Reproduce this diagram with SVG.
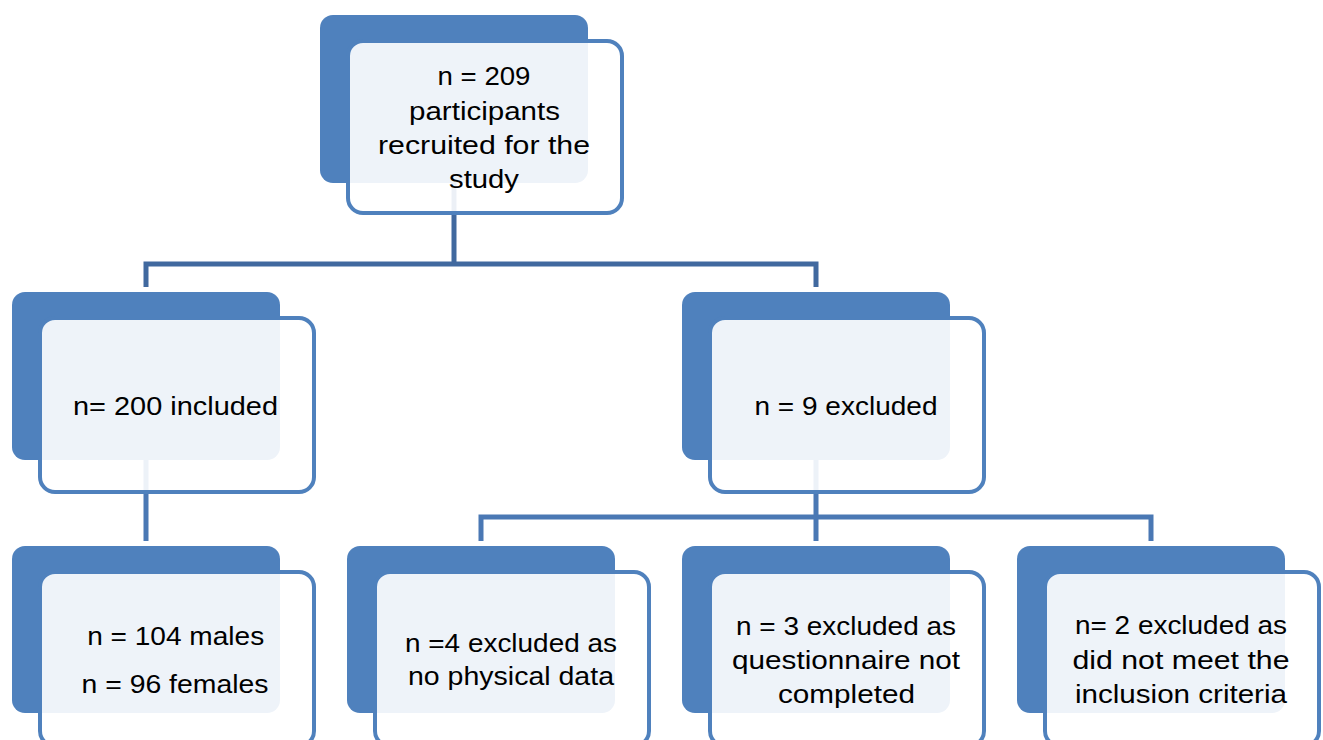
<svg xmlns="http://www.w3.org/2000/svg" width="1323" height="740" viewBox="0 0 1323 740">
<style>
.back{fill:#4F81BD}
.front{fill:#FFFFFF;fill-opacity:0.9;stroke:#4F81BD;stroke-width:4}
.c1{fill:none;stroke:#41699F;stroke-width:5;stroke-linejoin:miter}
.c2{fill:none;stroke:#4A78B4;stroke-width:5;stroke-linejoin:miter}
text{font-family:"Liberation Sans",Arial,sans-serif;font-size:25px;fill:#000;text-anchor:middle}
</style>
<rect width="1323" height="740" fill="#FFFFFF"/>
<g id="connectors">
<path class="c1" d="M454 100 V264"/>
<path class="c1" d="M146 287 V264 H816 V287"/>
<path class="c2" d="M146 400 V541"/>
<path class="c2" d="M816 400 V541"/>
<path class="c2" d="M481 541 V517 H1151 V541"/>
</g>
<g id="n_root">
<rect class="back" x="320" y="15" width="268" height="168" rx="13"/>
<rect class="front" x="348" y="41" width="274" height="172" rx="15"/>
<text x="484" y="85" textLength="93" lengthAdjust="spacingAndGlyphs">n = 209</text>
<text x="484.5" y="119.5" textLength="151" lengthAdjust="spacingAndGlyphs">participants</text>
<text x="484" y="154" textLength="212" lengthAdjust="spacingAndGlyphs">recruited for the</text>
<text x="484" y="188" textLength="70" lengthAdjust="spacingAndGlyphs">study</text>
</g>
<g id="n_included">
<rect class="back" x="12" y="292" width="268" height="168" rx="13"/>
<rect class="front" x="40" y="318" width="274" height="174" rx="15"/>
<text x="175.5" y="415" textLength="205" lengthAdjust="spacingAndGlyphs">n= 200 included</text>
</g>
<g id="n_excluded">
<rect class="back" x="682" y="292" width="268" height="168" rx="13"/>
<rect class="front" x="710" y="318" width="274" height="174" rx="15"/>
<text x="846" y="415" textLength="183" lengthAdjust="spacingAndGlyphs">n = 9 excluded</text>
</g>
<g id="n_sex">
<rect class="back" x="12" y="546" width="268" height="167" rx="13"/>
<rect class="front" x="40" y="572" width="274" height="174" rx="15"/>
<text x="175.7" y="645" textLength="177" lengthAdjust="spacingAndGlyphs">n = 104 males</text>
<text x="175" y="693" textLength="187" lengthAdjust="spacingAndGlyphs">n = 96 females</text>
</g>
<g id="n_physical">
<rect class="back" x="347" y="546" width="268" height="167" rx="13"/>
<rect class="front" x="375" y="572" width="274" height="174" rx="15"/>
<text x="511" y="651.5" textLength="212" lengthAdjust="spacingAndGlyphs">n =4 excluded as</text>
<text x="511" y="685" textLength="206" lengthAdjust="spacingAndGlyphs">no physical data</text>
</g>
<g id="n_questionnaire">
<rect class="back" x="682" y="546" width="268" height="167" rx="13"/>
<rect class="front" x="710" y="572" width="274" height="174" rx="15"/>
<text x="846" y="634.5" textLength="220" lengthAdjust="spacingAndGlyphs">n = 3 excluded as</text>
<text x="846" y="668.5" textLength="228" lengthAdjust="spacingAndGlyphs">questionnaire not</text>
<text x="846.5" y="703" textLength="137" lengthAdjust="spacingAndGlyphs">completed</text>
</g>
<g id="n_criteria">
<rect class="back" x="1017" y="546" width="268" height="167" rx="13"/>
<rect class="front" x="1045" y="572" width="274" height="174" rx="15"/>
<text x="1181" y="633.5" textLength="212" lengthAdjust="spacingAndGlyphs">n= 2 excluded as</text>
<text x="1181" y="668.5" textLength="217" lengthAdjust="spacingAndGlyphs">did not meet the</text>
<text x="1181" y="703" textLength="212" lengthAdjust="spacingAndGlyphs">inclusion criteria</text>
</g>
</svg>
